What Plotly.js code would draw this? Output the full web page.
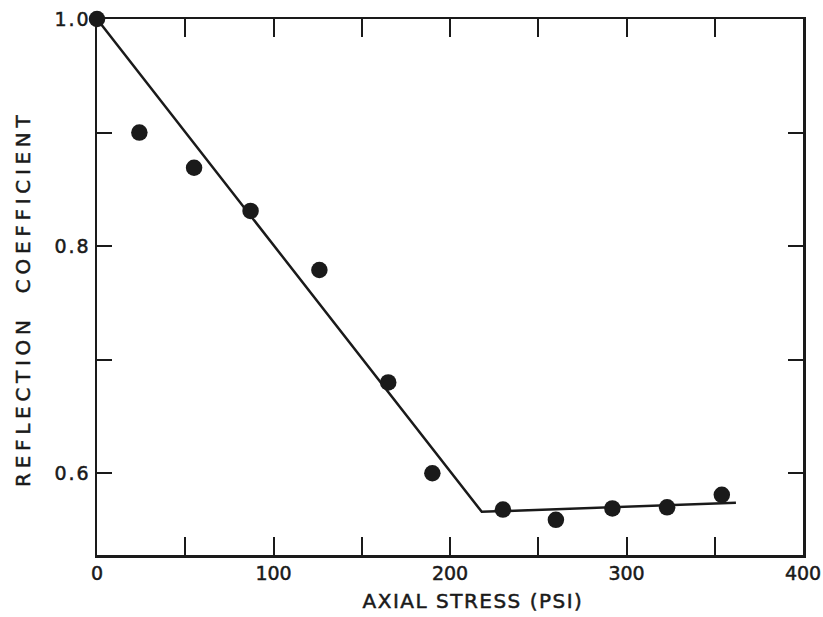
<!DOCTYPE html>
<html>
<head>
<meta charset="utf-8">
<script src="https://cdn.plot.ly/plotly-3.0.1.min.js"></script>
<style>
html,body{margin:0;padding:0;background:#fff;}
#chart{width:823px;height:617px;}
#chart g.annotation[data-index="0"] text{letter-spacing:1.5px;}
#chart g.annotation[data-index="1"] text{letter-spacing:4.7px;}
#chart .ytick text{letter-spacing:2px;}
#chart .annotation-text, #chart .xtick text, #chart .ytick text{stroke:#1a1a1a;stroke-width:0.5px;}
</style>
</head>
<body>
<div id="chart"></div>
<script>
// Measured data points
const stressPsi = [0, 24, 55, 87, 126, 165, 190, 230, 260, 292, 323, 354];
const reflection = [1.0, 0.900, 0.869, 0.831, 0.779, 0.680, 0.600, 0.568, 0.559, 0.569, 0.570, 0.581];
// Fitted piecewise line
const fitX = [0, 218, 362];
const fitY = [1.0, 0.566, 0.574];
// Ticks
const xTickVals = [0, 50, 100, 150, 200, 250, 300, 350, 400];
const xTickText = ['0', '', '100', '', '200', '', '300', '', '400'];
const yTickVals = [0.6, 0.7, 0.8, 0.9, 1.0];
const yTickText = ['0.6', '', '0.8', '', '1.0'];
const xTitle = 'AXIAL STRESS (PSI)';
const yTitle = 'REFLECTION  COEFFICIENT';

const ink = '#1a1a1a';
const font = '"DejaVu Sans", sans-serif';

const traces = [
  {x: fitX, y: fitY, mode: 'lines', line: {color: ink, width: 2.5}, hoverinfo: 'skip', cliponaxis: false},
  {x: stressPsi, y: reflection, mode: 'markers', marker: {color: ink, size: 16.5}, cliponaxis: false}
];

const layout = {
  width: 823, height: 617,
  margin: {l: 97, r: 20, t: 19, b: 62},
  paper_bgcolor: '#fff', plot_bgcolor: '#fff',
  showlegend: false,
  font: {family: font, color: ink},
  xaxis: {
    range: [0, 400], showgrid: false, zeroline: false,
    showline: true, linecolor: ink, linewidth: 2.5, mirror: 'ticks',
    ticks: 'inside', ticklen: 18, tickwidth: 2, tickcolor: ink,
    tickvals: xTickVals, ticktext: xTickText,
    tickfont: {size: 19, family: font, color: ink},
    automargin: false
  },
  yaxis: {
    range: [0.528, 1.0], showgrid: false, zeroline: false,
    showline: true, linecolor: ink, linewidth: 2.5, mirror: 'ticks',
    ticks: 'inside', ticklen: 15, tickwidth: 2, tickcolor: ink,
    tickvals: yTickVals, ticktext: yTickText,
    tickfont: {size: 19, family: font, color: ink},
    automargin: false
  },
  annotations: [
    {text: xTitle, xref: 'paper', yref: 'paper', x: 0.532, y: -0.0858,
     xanchor: 'center', yanchor: 'middle', showarrow: false,
     font: {size: 20, family: font, color: ink}},
    {text: yTitle, xref: 'paper', yref: 'paper', x: -0.105, y: 0.4795,
     xanchor: 'center', yanchor: 'middle', showarrow: false, textangle: -90,
     font: {size: 20, family: font, color: ink}}
  ]
};

Plotly.newPlot('chart', traces, layout, {displayModeBar: false, staticPlot: true});
</script>
</body>
</html>
